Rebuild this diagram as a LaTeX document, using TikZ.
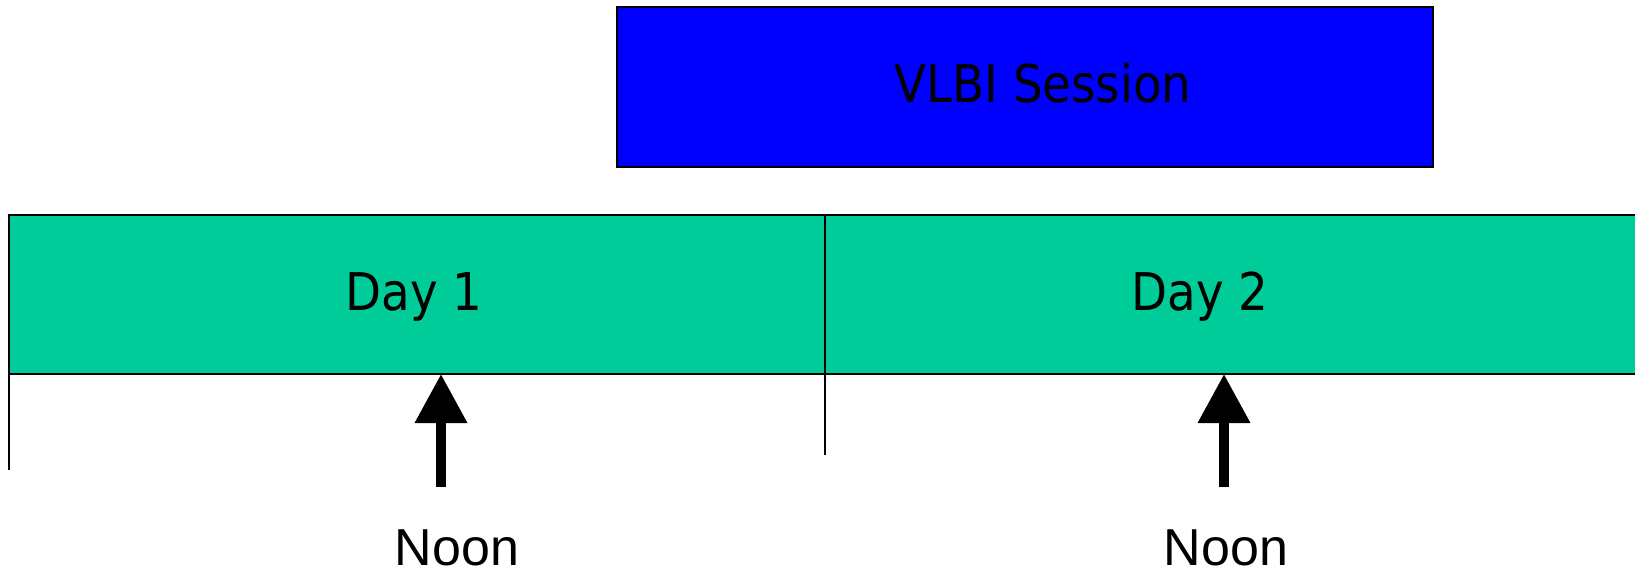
\documentclass[tikz,border=0pt]{standalone}
\usepackage{fontspec}
\usetikzlibrary{arrows.meta}
\newfontfamily\boxfont{DejaVu Sans Condensed}
\newfontfamily\noonfont{Liberation Sans}
\definecolor{daygreen}{RGB}{0,204,153}
\definecolor{sessblue}{RGB}{0,0,255}
\tikzset{
  daybox/.style={draw=black, line width=2pt, fill=daygreen, minimum width=816pt, minimum height=159pt, inner sep=0pt, outer sep=0pt},
  sessbox/.style={draw=black, line width=2pt, fill=sessblue, minimum width=816pt, minimum height=160pt, inner sep=0pt, outer sep=0pt},
  boxtext/.style={font=\boxfont\fontsize{52}{60}\selectfont, anchor=base, inner sep=0pt},
  noontext/.style={font=\noonfont\fontsize{52}{60}\selectfont, anchor=base, inner sep=0pt},
  tick/.style={line width=1.5pt},
  noonarrow/.style={line width=10pt, -{Triangle[length=49pt,width=50pt]}}
}
\begin{document}
\begin{tikzpicture}[x=1pt,y=-1pt]
\clip (0,0) rectangle (1635,570);
\fill[white] (0,0) rectangle (1635,570);
\node[sessbox] (sess) at (1025,87) {};
\node[daybox] (day1) at (417,294.5) {};
\node[daybox] (day2) at (1233,294.5) {};
\node[boxtext] (t0) at (1043,102) {VLBI Session};
\node[boxtext] (t1) at (414,310) {Day 1};
\node[boxtext] (t2) at (1200,310) {Day 2};
\coordinate (l0) at (9,470);
\coordinate (l1) at (825,455);
\draw[tick] (day1.south west) -- (l0);
\draw[tick] (day1.south east) -- (l1);
\coordinate (a1) at (441,487);
\coordinate (a2) at (1224,487);
\draw[noonarrow] (a1) -- (a1 |- day1.south);
\draw[noonarrow] (a2) -- (a2 |- day2.south);
\node[noontext] (n1) at (457,565) {Noon};
\node[noontext] (n2) at (1226,565) {Noon};
\end{tikzpicture}
\end{document}
